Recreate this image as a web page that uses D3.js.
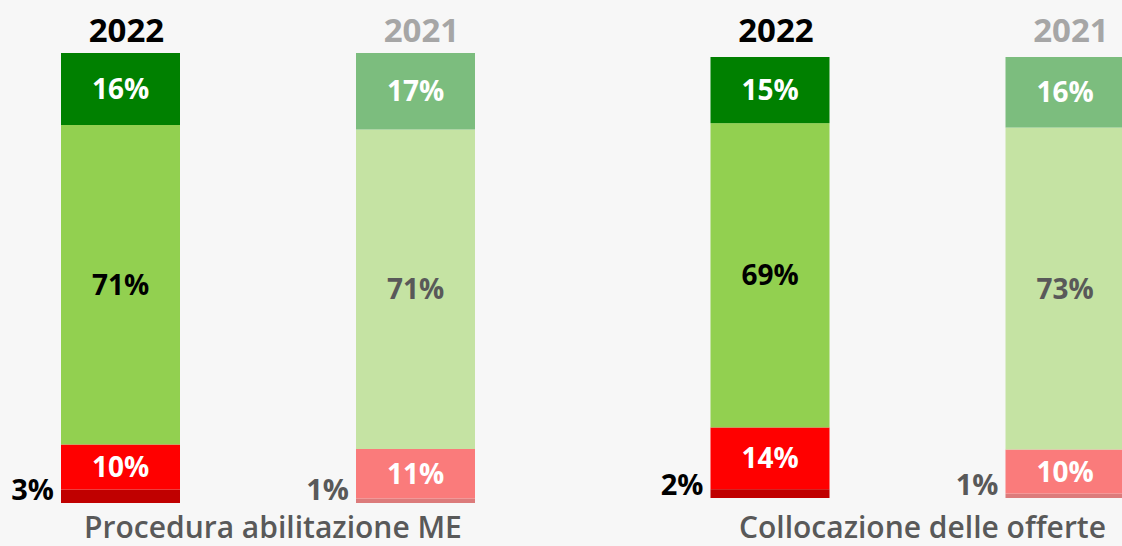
<!DOCTYPE html>
<html>
<head>
<meta charset="utf-8">
<script src="https://cdn.jsdelivr.net/npm/d3@7"></script>
<style>
body { margin: 0; background: #f7f7f7; }
svg { display: block; font-family: "Open Sans", sans-serif; }
</style>
</head>
<body>
<svg id="chart" width="1122" height="546"></svg>
<script>
// categories and years
var categories = ["Procedura abilitazione ME", "Collocazione delle offerte"];
var years = ["2022", "2021"];

// values in %, one entry per bar: [cat0 2022, cat0 2021, cat1 2022, cat1 2021]
var moltoPositivo = [16, 17, 15, 16];
var positivo = [71, 71, 69, 73];
var negativo = [10, 11, 14, 10];
var moltoNegativo = [3, 1, 2, 1];

var keys = ["moltoNegativo", "negativo", "positivo", "moltoPositivo"];

var rows = [];
categories.forEach(function(c, ci) {
    years.forEach(function(y, yi) {
        var i = ci * 2 + yi;
        rows.push({
            cat: c, year: y,
            moltoNegativo: moltoNegativo[i],
            negativo: negativo[i],
            positivo: positivo[i],
            moltoPositivo: moltoPositivo[i]
        });
    });
});

var colors = {
    "2022": { moltoNegativo: "#c00000", negativo: "#ff0000", positivo: "#92d050", moltoPositivo: "#008000" },
    "2021": { moltoNegativo: "#dc7b7b", negativo: "#fa7b7b", positivo: "#c5e3a3", moltoPositivo: "#7cbd7e" }
};
var labelColor = {
    "2022": { negativo: "#ffffff", positivo: "#000000", moltoPositivo: "#ffffff", outside: "#000000" },
    "2021": { negativo: "#ffffff", positivo: "#595959", moltoPositivo: "#ffffff", outside: "#595959" }
};

var svg = d3.select("#chart");

var x0 = d3.scaleBand()
    .domain(categories)
    .range([-56.75, 1242.25]);

var x1 = d3.scaleBand()
    .domain(years)
    .range([-207, 207])
    .paddingInner(176 / 295);

// each panel has its own vertical extent
var yScales = {};
yScales[categories[0]] = d3.scaleLinear().domain([0, 100]).range([503, 53]);
yScales[categories[1]] = d3.scaleLinear().domain([0, 100]).range([498, 57]);

var stack = d3.stack().keys(keys);
var series = stack(rows);

function barX(d) {
    return x0(d.cat) + x0.bandwidth() / 2 + x1(d.year);
}

var g = svg.append("g");

series.forEach(function(s) {
    g.selectAll(".seg-" + s.key)
        .data(s)
        .enter().append("rect")
        .attr("x", function(d) { return barX(d.data); })
        .attr("width", x1.bandwidth())
        .attr("y", function(d) { return yScales[d.data.cat](d[1]); })
        .attr("height", function(d) { var y = yScales[d.data.cat]; return y(d[0]) - y(d[1]); })
        .attr("fill", function(d) { return colors[d.data.year][s.key]; });

    if (s.key === "moltoNegativo") {
        // small slice: label left of the bar
        g.selectAll(".lbl-" + s.key)
            .data(s)
            .enter().append("text")
            .attr("x", function(d) { return barX(d.data) - 7; })
            .attr("y", function(d) { return yScales[d.data.cat](d[0]) - 3; })
            .attr("text-anchor", "end")
            .attr("font-size", 29)
            .attr("font-weight", 700)
            .attr("fill", function(d) { return labelColor[d.data.year].outside; })
            .text(function(d) { return d.data[s.key] + "%"; });
    } else {
        g.selectAll(".lbl-" + s.key)
            .data(s)
            .enter().append("text")
            .attr("x", function(d) { return barX(d.data) + x1.bandwidth() / 2; })
            .attr("y", function(d) { var y = yScales[d.data.cat]; return (y(d[0]) + y(d[1])) / 2; })
            .attr("dy", "0.36em")
            .attr("text-anchor", "middle")
            .attr("font-size", 28)
            .attr("font-weight", 700)
            .attr("fill", function(d) { return labelColor[d.data.year][s.key]; })
            .text(function(d) { return d.data[s.key] + "%"; });
    }
});

// year headers
g.selectAll(".year")
    .data(rows)
    .enter().append("text")
    .attr("x", function(d) { return barX(d) + x1.bandwidth() / 2 + 6; })
    .attr("y", 42)
    .attr("text-anchor", "middle")
    .attr("font-size", 33)
    .attr("font-weight", 700)
    .attr("fill", function(d) { return d.year === "2022" ? "#000000" : "#a6a6a6"; })
    .text(function(d) { return d.year; });

// category labels
g.selectAll(".cat")
    .data(categories)
    .enter().append("text")
    .attr("x", function(d) { return x0(d) + x0.bandwidth() / 2 + 5; })
    .attr("y", 538)
    .attr("text-anchor", "middle")
    .attr("font-size", 30)
    .attr("font-weight", 600)
    .attr("fill", "#595959")
    .text(function(d) { return d; });
</script>
</body>
</html>
